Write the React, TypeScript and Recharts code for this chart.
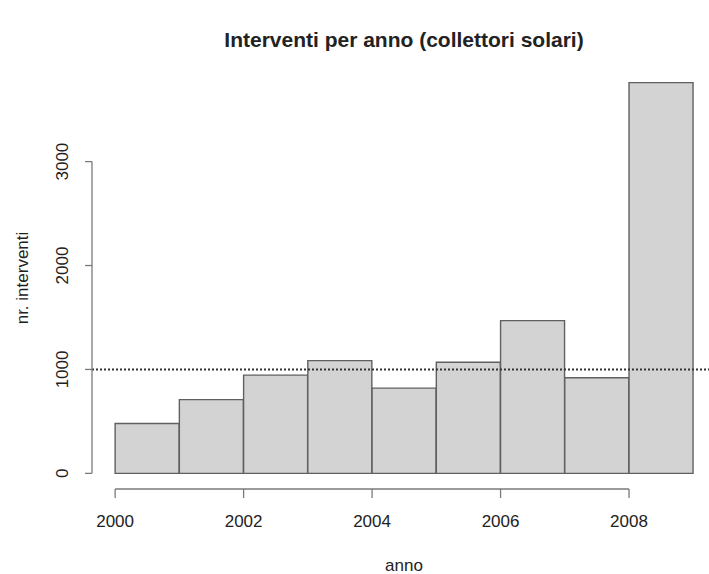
import {
  Bar,
  ComposedChart,
  ReferenceLine,
  XAxis,
  YAxis,
} from "recharts";

const years = [2000, 2001, 2002, 2003, 2004, 2005, 2006, 2007, 2008];
const interventions = [480, 710, 945, 1085, 820, 1070, 1470, 920, 3760];
const xTicks = [2000, 2002, 2004, 2006, 2008];
const yTicks = [0, 1000, 2000, 3000];
const referenceValue = 1000;

const histData = years.map((year, i) => ({ year, count: interventions[i] }));

// R-style 4% axis extension
const xMin = years[0];
const xMax = years[years.length - 1] + 1;
const xPad = (xMax - xMin) * 0.04;
const xDomain = [xMin - xPad, xMax + xPad];
const yMax = Math.max(...interventions);
const yDomain = [-yMax * 0.04, yMax * 1.04];

const CHART_W = 720;
const CHART_H = 574;
const margin = { top: 67, right: 3.6, bottom: 0, left: 0 };
const Y_AXIS_W = 92;
const X_AXIS_H = 85;
const plotW = CHART_W - margin.left - margin.right - Y_AXIS_W;
const catPad = (plotW * xPad) / (xDomain[1] - xDomain[0]);

const font = "'Liberation Sans', Arial, sans-serif";
const axisGrey = "#7a7a7a";
const textColor = "#222";

const XTick = ({ x, y, payload }: any) => (
  <text
    x={x}
    y={y + 21}
    textAnchor="middle"
    dominantBaseline="central"
    fontSize={17}
    fontFamily={font}
    fill={textColor}
  >
    {payload.value}
  </text>
);

const YTick = ({ x, y, payload }: any) => (
  <text
    x={x - 20}
    y={y}
    transform={`rotate(-90, ${x - 20}, ${y})`}
    textAnchor="middle"
    dominantBaseline="central"
    fontSize={17}
    fontFamily={font}
    fill={textColor}
  >
    {payload.value}
  </text>
);

export default function App() {
  return (
    <div
      style={{
        position: "absolute",
        left: 0,
        top: 0,
        width: 709,
        height: 574,
        overflow: "hidden",
        background: "#fff",
        fontFamily: font,
        color: textColor,
      }}
    >
      <ComposedChart
        width={CHART_W}
        height={CHART_H}
        data={histData}
        margin={margin}
        barCategoryGap={0}
        barGap={0}
      >
        <XAxis
          xAxisId="num"
          dataKey="year"
          type="number"
          domain={xDomain}
          allowDataOverflow
          ticks={xTicks}
          interval={0}
          height={X_AXIS_H}
          axisLine={false}
          tickLine={{ stroke: axisGrey, strokeWidth: 1.3 }}
          tickSize={9}
          tick={<XTick />}
        />
        <XAxis
          xAxisId="cat"
          dataKey="year"
          type="category"
          hide
          height={0}
          padding={{ left: catPad, right: catPad }}
        />
        <YAxis
          yAxisId="y"
          type="number"
          domain={yDomain}
          allowDataOverflow
          ticks={yTicks}
          interval={0}
          width={Y_AXIS_W}
          axisLine={false}
          tickLine={{ stroke: axisGrey, strokeWidth: 1.3 }}
          tickSize={7}
          tick={<YTick />}
        />
        <Bar
          xAxisId="cat"
          yAxisId="y"
          dataKey="count"
          fill="#d3d3d3"
          stroke="#606060"
          strokeWidth={1.4}
          isAnimationActive={false}
        />
        <ReferenceLine
          xAxisId="num"
          yAxisId="y"
          y={referenceValue}
          stroke="#333"
          strokeWidth={2}
          strokeDasharray="2 2"
          ifOverflow="visible"
        />
        <ReferenceLine
          xAxisId="num"
          yAxisId="y"
          segment={[
            { x: xTicks[0], y: yDomain[0] },
            { x: xTicks[xTicks.length - 1], y: yDomain[0] },
          ]}
          stroke={axisGrey}
          strokeWidth={1.3}
          ifOverflow="visible"
        />
        <ReferenceLine
          xAxisId="num"
          yAxisId="y"
          segment={[
            { x: xDomain[0], y: yTicks[0] },
            { x: xDomain[0], y: yTicks[yTicks.length - 1] },
          ]}
          stroke={axisGrey}
          strokeWidth={1.3}
          ifOverflow="visible"
        />
      </ComposedChart>

      <div
        style={{
          position: "absolute",
          left: 0,
          width: 808,
          top: 27,
          lineHeight: "26px",
          textAlign: "center",
          fontSize: 21,
          fontWeight: "bold",
        }}
      >
        Interventi per anno (collettori solari)
      </div>
      <div
        style={{
          position: "absolute",
          left: 0,
          width: 808,
          top: 557,
          lineHeight: "17px",
          textAlign: "center",
          fontSize: 17,
        }}
      >
        anno
      </div>
      <div
        style={{
          position: "absolute",
          left: 23 - 100,
          top: 278 - 12,
          width: 200,
          lineHeight: "24px",
          textAlign: "center",
          fontSize: 17,
          transform: "rotate(-90deg)",
        }}
      >
        nr. interventi
      </div>
    </div>
  );
}
